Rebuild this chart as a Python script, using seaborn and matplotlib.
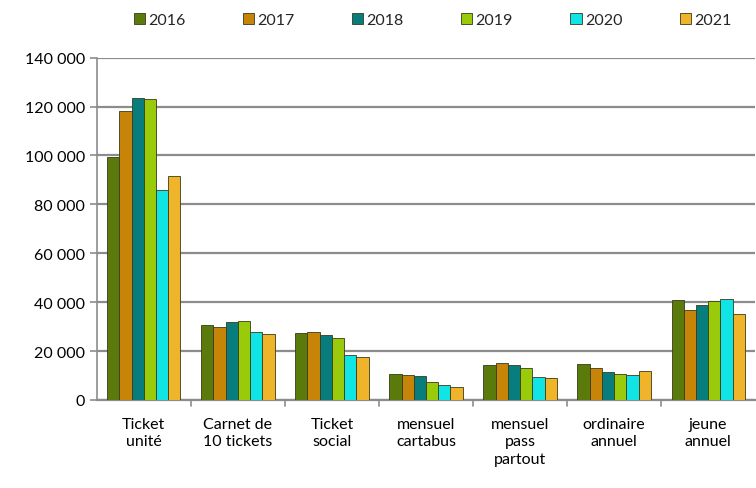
import numpy as np
import pandas as pd
import matplotlib.pyplot as plt
import matplotlib.ticker as mticker
import seaborn as sns

categories = ['Ticket\nunité', 'Carnet de\n10 tickets', 'Ticket\nsocial', 'mensuel\ncartabus',
              'mensuel\npass\npartout', 'ordinaire\nannuel', 'jeune\nannuel']
years = ['2016', '2017', '2018', '2019', '2020', '2021']
v2016 = [99500, 30600, 27300, 10600, 14500, 14600, 40700]
v2017 = [118000, 30000, 27600, 10200, 15000, 13100, 36600]
v2018 = [123700, 31700, 26500, 9800, 14500, 11300, 39000]
v2019 = [123300, 32100, 25200, 7200, 13000, 10500, 40400]
v2020 = [86000, 27600, 18400, 6100, 9400, 10100, 41200]
v2021 = [91800, 26800, 17400, 5300, 8800, 11700, 35000]
colors = ['#5a7a0c', '#c68508', '#087d7d', '#9acb0a', '#10e4e4', '#f0b42a']

df = pd.DataFrame({'cat': categories, '2016': v2016, '2017': v2017, '2018': v2018,
                   '2019': v2019, '2020': v2020, '2021': v2021})
long = pd.melt(df, id_vars=['cat'], value_vars=years, var_name='year', value_name='n')

sns.set_style('white')
plt.rcParams['font.family'] = ['Lato', 'DejaVu Sans']
fig = plt.figure(figsize=(7.56, 4.89), dpi=100)
ax = fig.add_axes([0.128, 0.18, 0.871, 0.70])

sns.barplot(data=long, x='cat', y='n', hue='year', palette=colors, width=0.78,
            saturation=1, edgecolor='#3a3a1a', linewidth=0.6, ax=ax, zorder=3)

ax.set_ylim(0, 140000)
ax.set_yticks(np.arange(0, 140001, 20000))
ax.yaxis.set_major_formatter(mticker.FuncFormatter(lambda v, p: f'{int(v):,}'.replace(',', ' ')))
ax.yaxis.grid(True, color='#8c8c8c', linewidth=1.6, zorder=0)
ax.set_xlim(-0.5, len(categories) - 0.5)
ax.set_xticks(np.arange(len(categories)))
ax.set_xticklabels(categories, va='top', linespacing=1.35, color='black')
ax.tick_params(axis='x', length=0, pad=12, labelsize=11.5)
ax.tick_params(axis='y', length=5, width=1.2, color='#8c8c8c', left=True, labelsize=11.5,
               labelcolor='black')
for b in np.arange(0.5, len(categories) - 0.5):
    ax.plot([b, b], [0, -0.018], transform=ax.get_xaxis_transform(), color='#8c8c8c',
            linewidth=1.2, clip_on=False)
for s in ['top', 'right']:
    ax.spines[s].set_visible(False)
ax.spines['left'].set_color('#8c8c8c')
ax.spines['bottom'].set_color('#8c8c8c')
ax.spines['left'].set_linewidth(1.2)
ax.spines['bottom'].set_linewidth(1.6)
ax.set_xlabel('')
ax.set_ylabel('')

ax.legend(loc='lower center', bbox_to_anchor=(0.51, 1.07), ncol=6, frameon=False,
          fontsize=11.5, handlelength=0.7, handleheight=0.7, handletextpad=0.2,
          columnspacing=3.6, borderaxespad=0)

fig.savefig('out.png', dpi=100)
